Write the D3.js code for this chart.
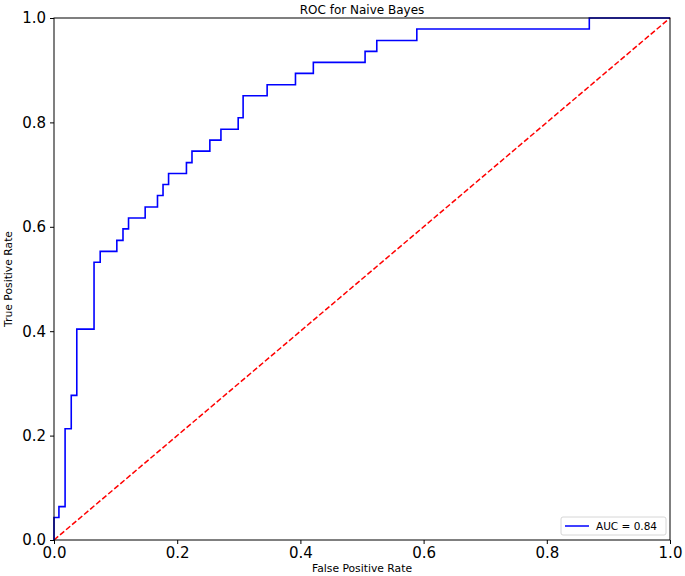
<!DOCTYPE html>
<html lang="en">
<head>
  <meta charset="UTF-8">
  <title>ROC for Naive Bayes</title>
  <script src="https://d3js.org/d3.v7.min.js"></script>
  <style>
    body {
      margin: 0;
      background: #ffffff;
      font-family: "DejaVu Sans", sans-serif;
    }
  </style>
</head>
<body>
  <script>
    // ROC points: fpr where the curve steps up, tpr reached after the step
    const fpr = [0, 0, 0.008, 0.018, 0.028, 0.037, 0.065, 0.075, 0.102, 0.112, 0.121,
      0.148, 0.168, 0.177, 0.186, 0.215, 0.224, 0.253, 0.271, 0.299, 0.307,
      0.346, 0.392, 0.421, 0.505, 0.524, 0.589, 0.869, 1.0];
    const tpr = [0, 0.043, 0.064, 0.213, 0.277, 0.404, 0.532, 0.553, 0.574, 0.596, 0.617,
      0.638, 0.660, 0.681, 0.702, 0.723, 0.745, 0.766, 0.787, 0.809, 0.851,
      0.872, 0.894, 0.915, 0.936, 0.957, 0.979, 1.0, 1.0];
    const diagonal = [0, 1];
    const tickValues = [0, 0.2, 0.4, 0.6, 0.8, 1.0];
    const aucLabel = 'AUC = 0.84';

    const width = 685;
    const height = 576;
    const margin = { top: 18, right: 15, bottom: 36, left: 54 };

    const svg = d3.select('body')
      .append('svg')
      .attr('width', width)
      .attr('height', height);

    const x = d3.scaleLinear()
      .domain([0, 1])
      .range([margin.left, width - margin.right]);

    const y = d3.scaleLinear()
      .domain([0, 1])
      .range([height - margin.bottom, margin.top]);

    // diagonal reference line
    svg.append('line')
      .attr('x1', x(diagonal[0]))
      .attr('y1', y(diagonal[0]))
      .attr('x2', x(diagonal[1]))
      .attr('y2', y(diagonal[1]))
      .style('stroke', '#ff0000')
      .style('stroke-width', 1.5)
      .style('stroke-dasharray', '5.5,2.4');

    // roc curve
    const line = d3.line()
      .x((d, i) => x(fpr[i]))
      .y((d, i) => y(tpr[i]))
      .curve(d3.curveStepAfter);

    svg.append('path')
      .datum(fpr)
      .attr('d', line)
      .style('fill', 'none')
      .style('stroke', '#0000ff')
      .style('stroke-width', 1.6);

    // frame
    svg.append('rect')
      .attr('x', x(0))
      .attr('y', y(1))
      .attr('width', x(1) - x(0))
      .attr('height', y(0) - y(1))
      .style('fill', 'none')
      .style('stroke', '#000')
      .style('stroke-width', 1);

    const xAxis = svg.append('g')
      .attr('transform', `translate(0,${y(0)})`)
      .call(d3.axisBottom(x).tickValues(tickValues).tickFormat(d3.format('.1f')).tickSize(4).tickPadding(3));

    const yAxis = svg.append('g')
      .attr('transform', `translate(${x(0)},0)`)
      .call(d3.axisLeft(y).tickValues(tickValues).tickFormat(d3.format('.1f')).tickSize(4).tickPadding(4));

    [xAxis, yAxis].forEach(a => {
      a.select('.domain').remove();
      a.selectAll('text')
        .style('font-family', '"DejaVu Sans", sans-serif')
        .style('font-size', '15px')
        .style('fill', '#000');
    });

    // title
    svg.append('text')
      .attr('x', (x(0) + x(1)) / 2)
      .attr('y', 14)
      .attr('text-anchor', 'middle')
      .style('font-size', '12px')
      .text('ROC for Naive Bayes');

    // axis labels
    svg.append('text')
      .attr('x', (x(0) + x(1)) / 2)
      .attr('y', 572)
      .attr('text-anchor', 'middle')
      .attr('textLength', 100)
      .attr('lengthAdjust', 'spacingAndGlyphs')
      .style('font-size', '11px')
      .text('False Positive Rate');

    svg.append('text')
      .attr('transform', `translate(12,${(y(0) + y(1)) / 2}) rotate(-90)`)
      .attr('text-anchor', 'middle')
      .attr('textLength', 96)
      .attr('lengthAdjust', 'spacingAndGlyphs')
      .style('font-size', '11px')
      .text('True Positive Rate');

    // legend
    const legend = svg.append('g')
      .attr('transform', `translate(${x(1) - 109},${y(0) - 23})`);

    legend.append('rect')
      .attr('width', 105)
      .attr('height', 18)
      .attr('rx', 2)
      .style('fill', '#fff')
      .style('stroke', '#cccccc')
      .style('stroke-width', 0.8);

    legend.append('line')
      .attr('x1', 4)
      .attr('x2', 28)
      .attr('y1', 9)
      .attr('y2', 9)
      .style('stroke', '#0000ff')
      .style('stroke-width', 1.5);

    legend.append('text')
      .attr('x', 35)
      .attr('y', 13)
      .style('font-size', '10.5px')
      .text(aucLabel);
  </script>
</body>
</html>
